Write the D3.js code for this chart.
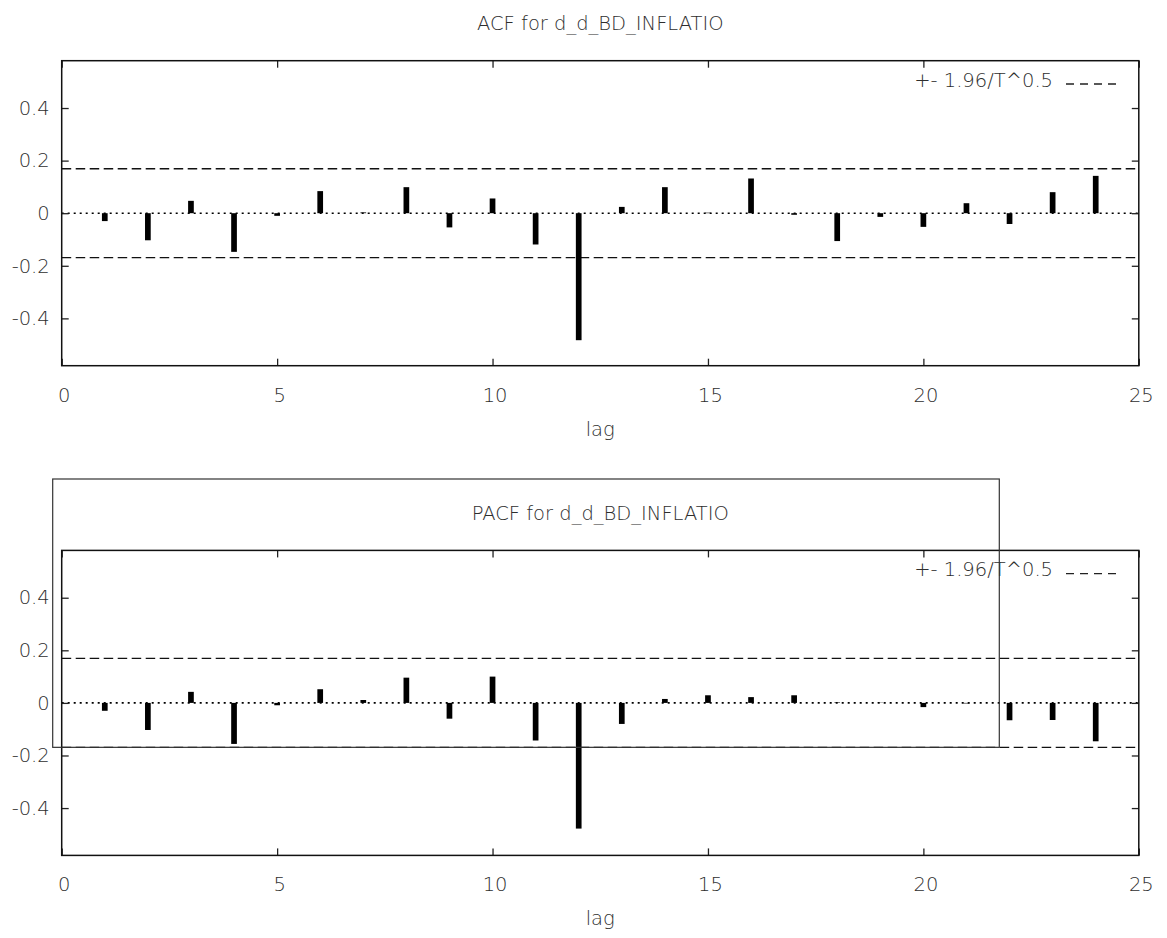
<!DOCTYPE html>
<html>
<head>
<meta charset="utf-8">
<script src="https://cdn.jsdelivr.net/npm/d3@7"></script>
<style>
  html, body { margin: 0; padding: 0; background: #fff; }
  svg text { font-family: "DejaVu Sans", "Liberation Sans", sans-serif; font-weight: 200; fill: #2e2e2e; }
</style>
</head>
<body>
<svg id="chart" width="1167" height="938"></svg>
<script>
// Correlogram of d_d_BD_INFLATIO: autocorrelations by lag
const lags = d3.range(1, 25);
const acfValues = [
  -0.030, -0.103, 0.047, -0.147, -0.010, 0.084, 0.003, 0.099,
  -0.054, 0.056, -0.119, -0.483, 0.024, 0.099, 0.002, 0.132,
  -0.006, -0.106, -0.014, -0.052, 0.038, -0.041, 0.080, 0.142
];
const pacfValues = [
  -0.030, -0.103, 0.042, -0.156, -0.009, 0.052, 0.011, 0.096,
  -0.060, 0.100, -0.143, -0.478, -0.080, 0.015, 0.029, 0.022,
  0.029, 0.002, 0.001, -0.016, -0.002, -0.066, -0.065, -0.146
];
const xTicks = [0, 5, 10, 15, 20, 25];
const yTicks = [-0.4, -0.2, 0, 0.2, 0.4];
const band = 0.169;           // +- 1.96/T^0.5
const panelTitles = ["ACF for d_d_BD_INFLATIO", "PACF for d_d_BD_INFLATIO"];
const legendLabel = "+- 1.96/T^0.5";
const xLabel = "lag";

const svg = d3.select("#chart");
const left = 61.7, right = 1138.8;
const fontSize = 19.5;

const x = d3.scaleLinear().domain([0, 25]).range([left, right]);

function drawPanel(top, bottom, title, values) {
  const y = d3.scaleLinear().domain([-0.58, 0.58]).range([bottom, top]);
  const g = svg.append("g");

  // confidence bands
  [band, -band].forEach(b => {
    g.append("line")
      .attr("x1", left).attr("x2", right)
      .attr("y1", y(b)).attr("y2", y(b))
      .attr("stroke", "#111").attr("stroke-width", 1.3)
      .attr("stroke-dasharray", "9.5,4.5");
  });

  // zero line
  g.append("line")
    .attr("x1", left).attr("x2", right)
    .attr("y1", y(0)).attr("y2", y(0))
    .attr("stroke", "#000").attr("stroke-width", 1.6)
    .attr("stroke-dasharray", "2,4");

  // impulses
  g.selectAll("rect.bar").data(values).join("rect")
    .attr("class", "bar")
    .attr("x", (d, i) => x(lags[i]) - 2.85)
    .attr("width", 5.7)
    .attr("y", d => Math.min(y(d), y(0)))
    .attr("height", d => Math.abs(y(d) - y(0)))
    .attr("fill", "#000");

  // axes with inward ticks
  const fmt = d => d === 0 ? "0" : String(d);
  const axL = g.append("g").attr("transform", `translate(${left},0)`)
    .call(d3.axisLeft(y).tickValues(yTicks).tickFormat(fmt).tickSizeInner(-7).tickSizeOuter(0).tickPadding(12));
  const axR = g.append("g").attr("transform", `translate(${right},0)`)
    .call(d3.axisRight(y).tickValues(yTicks).tickFormat("").tickSizeInner(-7).tickSizeOuter(0));
  const axB = g.append("g").attr("transform", `translate(0,${bottom})`)
    .call(d3.axisBottom(x).tickValues(xTicks).tickFormat(d3.format("d")).tickSizeInner(-7).tickSizeOuter(0).tickPadding(22));
  const axT = g.append("g").attr("transform", `translate(0,${top})`)
    .call(d3.axisTop(x).tickValues(xTicks).tickFormat("").tickSizeInner(-7).tickSizeOuter(0));
  [axL, axR, axB, axT].forEach(a => {
    a.select(".domain").remove();
    a.selectAll("line").attr("stroke", "#222").attr("stroke-width", 1.3);
    a.selectAll("text").attr("font-size", fontSize).attr("fill", "#2e2e2e")
      .style("font-family", null);
  });
  axB.selectAll("text").attr("dx", 2);

  // frame
  g.append("rect")
    .attr("x", left).attr("y", top)
    .attr("width", right - left).attr("height", bottom - top)
    .attr("fill", "none").attr("stroke", "#111").attr("stroke-width", 1.5);

  // title
  g.append("text")
    .attr("x", (left + right) / 2).attr("y", top - 30.7)
    .attr("text-anchor", "middle").attr("font-size", fontSize)
    .text(title);

  // x axis label
  g.append("text")
    .attr("x", (left + right) / 2).attr("y", bottom + 70)
    .attr("text-anchor", "middle").attr("font-size", fontSize)
    .text(xLabel);

  // key
  g.append("text")
    .attr("x", 1053).attr("y", top + 26)
    .attr("text-anchor", "end").attr("font-size", fontSize)
    .text(legendLabel);
  g.append("line")
    .attr("x1", 1066).attr("x2", 1116)
    .attr("y1", top + 23.3).attr("y2", top + 23.3)
    .attr("stroke", "#222").attr("stroke-width", 1.3)
    .attr("stroke-dasharray", "8,6");

  return y;
}

drawPanel(60.7, 365.7, panelTitles[0], acfValues);
const yB = drawPanel(550.4, 855.4, panelTitles[1], pacfValues);

// stray frame drawn over the lower panel
svg.append("rect")
  .attr("x", 52.7).attr("y", 479)
  .attr("width", 999.3 - 52.7).attr("height", yB(-band) - 479)
  .attr("fill", "none").attr("stroke", "#333").attr("stroke-width", 1.2);
</script>
</body>
</html>
